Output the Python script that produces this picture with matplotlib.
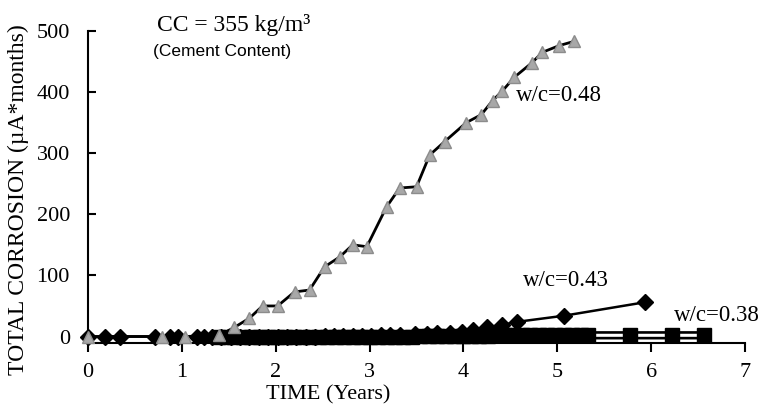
import matplotlib

matplotlib.use("Agg")
import matplotlib.pyplot as plt

# w/c = 0.48 (grey triangles)
t48 = [0.0, 0.79, 1.03, 1.40, 1.56, 1.72, 1.86, 2.02, 2.20, 2.36, 2.52, 2.68,
       2.82, 2.97, 3.18, 3.32, 3.50, 3.64, 3.80, 4.03, 4.19, 4.31, 4.41, 4.54,
       4.73, 4.84, 5.02, 5.18]
v48 = [0, 0, 0, 2, 15, 30, 50, 50, 73, 76, 114, 130,
       150, 147, 212, 243, 245, 297, 319, 350, 363, 386, 401, 424,
       448, 465, 476, 483]

# w/c = 0.43 (black diamonds)
t43 = [0.0, 0.18, 0.34, 0.71, 0.87, 0.96, 1.16, 1.24, 1.32, 1.42, 1.52, 1.62,
       1.72, 1.82, 1.92, 2.02, 2.12, 2.22, 2.32, 2.42, 2.52, 2.62, 2.72, 2.82,
       2.92, 3.02, 3.12, 3.22, 3.32, 3.48, 3.61, 3.72, 3.86, 3.98, 4.10, 4.25,
       4.41, 4.57, 5.07, 5.93]
v43 = [0, 0, 0, 0, 0, 0, 0, 0, 0, 0, 0, 0,
       0, 0, 0, 0, 0, 0, 0, 0, 1, 1, 1, 1,
       1, 1, 2, 2, 2, 4, 4, 5, 5, 7, 11, 15,
       19, 24, 34, 56]

# w/c = 0.38 (black squares)
t38 = [1.38, 1.47, 1.56, 1.65, 1.74, 1.83, 1.92, 2.01, 2.10, 2.19, 2.28, 2.37,
       2.46, 2.55, 2.64, 2.73, 2.82, 2.91, 3.00, 3.09, 3.18, 3.27, 3.36, 3.45,
       3.54, 3.63, 3.72, 3.81, 3.90, 3.99, 4.08, 4.17, 4.26, 4.35, 4.44, 4.53,
       4.62, 4.71, 4.80, 4.89, 4.98, 5.07, 5.16, 5.25, 5.33, 5.77, 6.22, 6.56]
v38 = [0, 0, 0, 0, 0, 0, 0, 0, 0, 0, 0, 0,
       0, 0, 0, 0, 0, 0, 0, 0, 0, 0, 0, 0,
       1, 1, 1, 1, 1, 1, 1, 1, 1, 2, 2, 2,
       2, 2, 2, 2, 2, 2, 2, 2, 2, 2, 2, 2]

xticks = [0, 1, 2, 3, 4, 5, 6, 7]
yticks = [0, 100, 200, 300, 400, 500]

plt.rcParams["font.family"] = "Liberation Serif"

fig = plt.figure(figsize=(7.65, 4.15), dpi=100)
ax = fig.add_axes([0.115, 0.1735, 0.859, 0.752])

# squares: hollow-looking connecting line, then markers
ax.plot(t38, v38, "-", color="black", lw=6, zorder=2, clip_on=False)
ax.plot(t38, v38, "-", color="white", lw=2.2, zorder=2.1, clip_on=False)
ax.plot(t38, v38, "s", color="black", ms=10.5, zorder=2.2, clip_on=False)

ax.plot(t43, v43, "D", ls="-", color="black", lw=1.8, ms=8.5, zorder=3,
        clip_on=False)

ax.plot(t48, v48, "-", color="black", lw=2.0, zorder=4, clip_on=False)
ax.plot(t48, v48, "^", ls="none", color="#a8a8a8", mec="#8c8c8c", ms=9,
        zorder=5, clip_on=False)

ax.set_xlim(0, 7)
ax.set_ylim(-10.6, 500)
ax.set_xticks(xticks)
ax.set_yticks(yticks)
for s in ("top", "right"):
    ax.spines[s].set_visible(False)
for s in ("left", "bottom"):
    ax.spines[s].set_linewidth(1.5)
ax.tick_params(axis="y", direction="in", length=6, width=1.5, pad=13,
               labelsize=16)
ax.tick_params(axis="x", direction="out", length=6.5, width=1.5, pad=8,
               labelsize=16)

ax.set_xlabel("TIME (Years)", fontsize=16)
ax.xaxis.set_label_coords(0.365, -0.135)
ax.set_ylabel("TOTAL CORROSION (µA*months)", fontsize=17)
ax.yaxis.set_label_coords(-0.09, 0.46)

ax.text(0.74, 510, "CC = 355 kg/m³", fontsize=17, ha="left", va="center",
        clip_on=False)
ax.text(0.69, 466, "(Cement Content)", family="Liberation Sans", fontsize=12.5,
        ha="left", va="center")
ax.text(4.56, 395, "w/c=0.48", fontsize=16.5, ha="left", va="center")
ax.text(4.63, 92, "w/c=0.43", fontsize=16.5, ha="left", va="center")
ax.text(6.24, 35, "w/c=0.38", fontsize=16.5, ha="left", va="center",
        clip_on=False)

fig.savefig("out.png", dpi=100)
